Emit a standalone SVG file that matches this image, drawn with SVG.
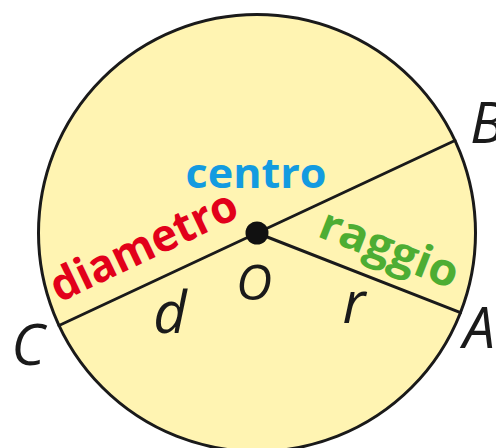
<svg xmlns="http://www.w3.org/2000/svg" width="496" height="448" viewBox="0 0 496 448">
<style>
.ln{stroke:#1a1a1a;stroke-width:3;fill:none;stroke-linecap:round}
.lbl{font-family:"Open Sans","Liberation Sans",sans-serif;font-style:italic;font-weight:400;fill:#1a1a1a}
.word{font-family:"Open Sans","Liberation Sans",sans-serif;font-weight:bold}
</style>
<rect width="496" height="448" fill="#ffffff"/>
<g id="circle">
<circle cx="257" cy="233" r="218.5" fill="#fff4b2" stroke="#1a1a1a" stroke-width="3"/>
</g>
<g id="connectors">
<line class="ln" x1="59" y1="325.5" x2="455" y2="140.5"/>
<line class="ln" x1="257" y1="233" x2="460.5" y2="312.6"/>
</g>
<g id="center">
<circle cx="257" cy="233" r="11.5" fill="#111111"/>
<text class="lbl" x="254" y="300" font-size="50" text-anchor="middle">O</text>
</g>
<g id="centro">
<text class="word" x="256" y="188" font-size="42" fill="#139be0" text-anchor="middle" textLength="141" lengthAdjust="spacingAndGlyphs">centro</text>
</g>
<g id="diametro">
<text class="word" transform="translate(59,303) rotate(-25.5)" font-size="45" fill="#e2001a" textLength="202" lengthAdjust="spacingAndGlyphs">diametro</text>
<text class="lbl" x="170" y="333" font-size="58" text-anchor="middle">d</text>
</g>
<g id="raggio">
<text class="word" transform="translate(316,236) rotate(21.5)" font-size="45" fill="#4dad33" textLength="146" lengthAdjust="spacingAndGlyphs">raggio</text>
<text class="lbl" x="354" y="323" font-size="58" text-anchor="middle">r</text>
</g>
<g id="point-A"><text class="lbl" x="463" y="348" font-size="57">A</text></g>
<g id="point-B"><text class="lbl" x="470" y="143" font-size="57">B</text></g>
<g id="point-C"><text class="lbl" x="28" y="365" font-size="57" text-anchor="middle">C</text></g>
</svg>
